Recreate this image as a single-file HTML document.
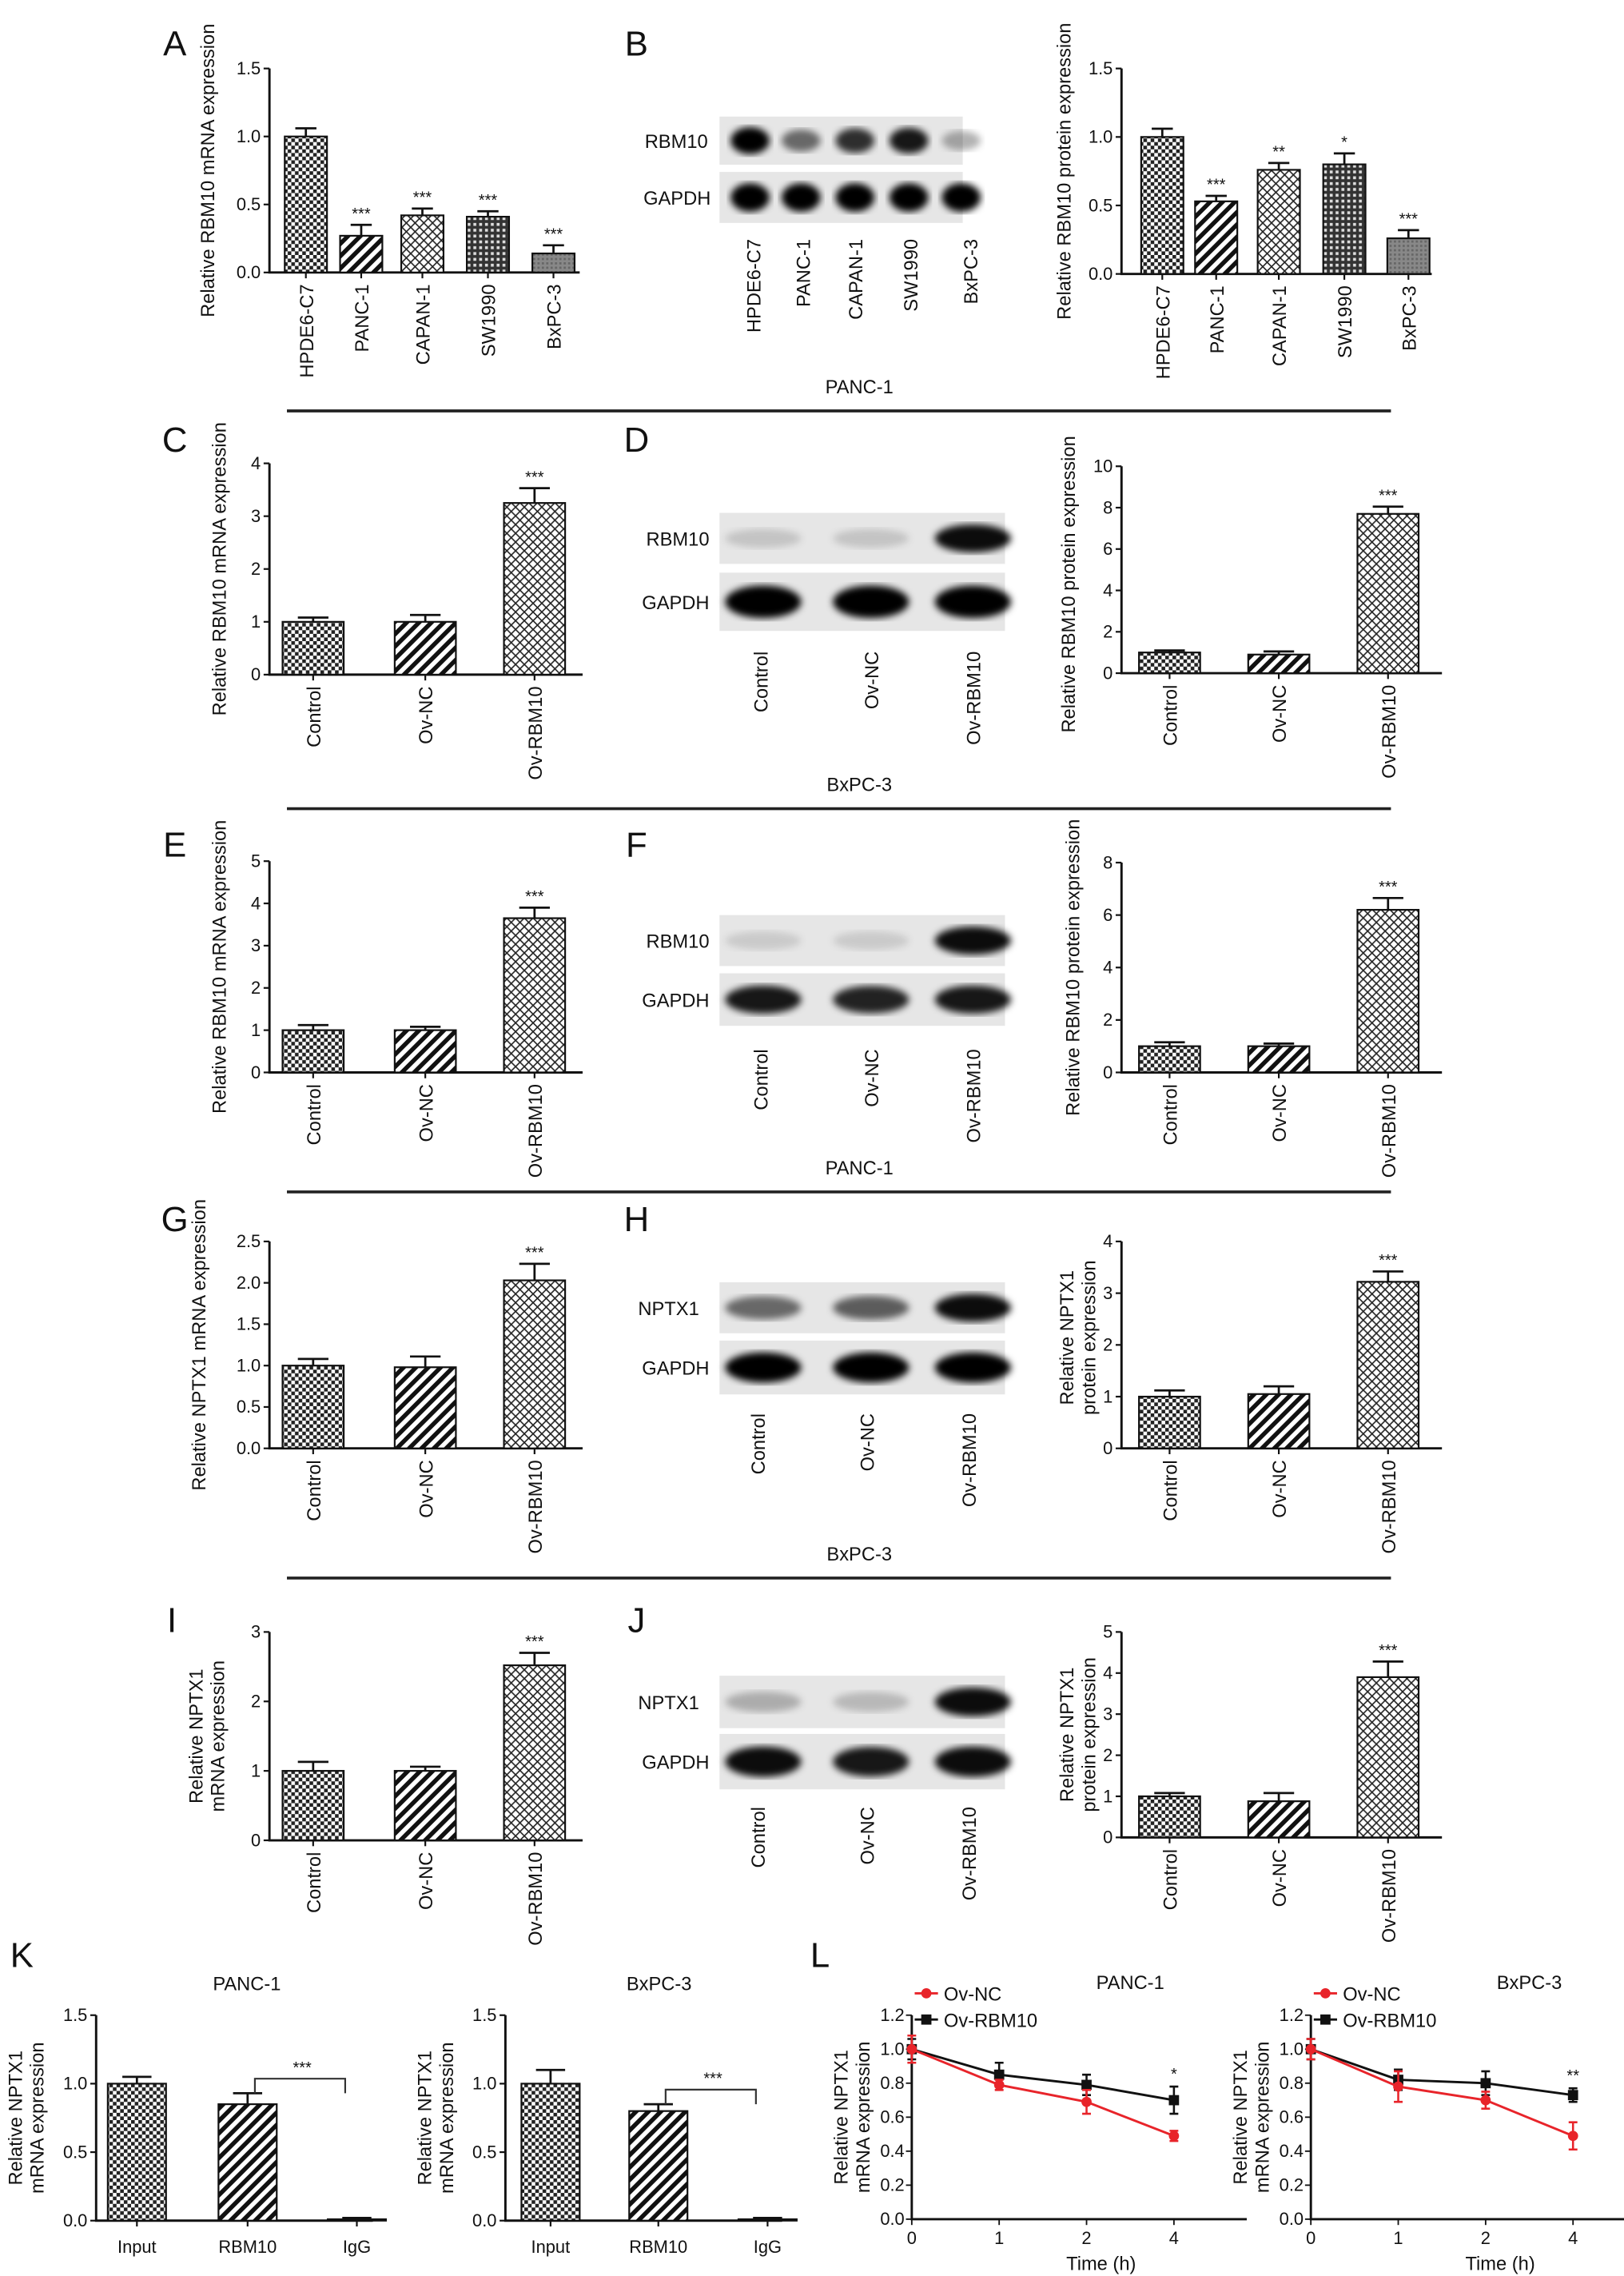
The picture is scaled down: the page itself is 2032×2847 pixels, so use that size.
<!DOCTYPE html>
<html><head><meta charset="utf-8">
<style>
html,body{margin:0;padding:0;background:#fff;}
svg{display:block;}
text{font-family:"Liberation Sans",sans-serif;fill:#111;}
</style></head>
<body>
<svg id="fig" xmlns="http://www.w3.org/2000/svg" width="2032" height="2847" viewBox="0 0 1115 1562" preserveAspectRatio="none">
<defs>
<pattern id="pCheck" width="5" height="5" patternUnits="userSpaceOnUse"><rect width="5" height="5" fill="#fff"/><path d="M0 0h2.5v2.5H0zM2.5 2.5H5V5H2.5z" fill="#222"/></pattern>
<pattern id="pDiag" width="6" height="6" patternUnits="userSpaceOnUse" patternTransform="rotate(45)"><rect width="6" height="6" fill="#fff"/><rect width="3" height="6" fill="#111"/></pattern>
<pattern id="pDiamond" width="6" height="6" patternUnits="userSpaceOnUse"><rect width="6" height="6" fill="#fff"/><path d="M0 0L6 6M6 0L0 6" stroke="#222" stroke-width="0.9"/></pattern>
<pattern id="pGrid" width="4" height="4" patternUnits="userSpaceOnUse"><rect width="4" height="4" fill="#333"/><rect x="1" y="1" width="2" height="2" fill="#ddd"/></pattern>
<pattern id="pGray" width="3" height="3" patternUnits="userSpaceOnUse"><rect width="3" height="3" fill="#888"/><rect width="1.5" height="1.5" fill="#666"/></pattern>
<filter id="blur"><feGaussianBlur stdDeviation="2.5"/></filter>
</defs>
</svg>
<script>
const NS='http://www.w3.org/2000/svg';
const svg=document.getElementById('fig');

// ---- data ----
const catsA=['HPDE6-C7','PANC-1','CAPAN-1','SW1990','BxPC-3'];
const valsA=[1.0,0.27,0.42,0.41,0.14];
const errsA=[0.06,0.08,0.05,0.04,0.06];
const starsA=['','***','***','***','***'];
const valsB=[1.0,0.53,0.76,0.80,0.26];
const errsB=[0.06,0.04,0.05,0.08,0.06];
const starsB=['','***','**','*','***'];
const cats3=['Control','Ov-NC','Ov-RBM10'];
const valsC=[1.0,1.0,3.25];const errsC=[0.08,0.13,0.28];
const valsD=[1.0,0.9,7.7];const errsD=[0.1,0.15,0.35];
const valsE=[1.0,1.0,3.65];const errsE=[0.12,0.08,0.25];
const valsF=[1.0,1.0,6.2];const errsF=[0.15,0.1,0.45];
const valsG=[1.0,0.98,2.03];const errsG=[0.08,0.13,0.2];
const valsH=[1.0,1.05,3.22];const errsH=[0.12,0.15,0.2];
const valsI=[1.0,1.0,2.52];const errsI=[0.13,0.06,0.18];
const valsJ=[1.0,0.88,3.9];const errsJ=[0.08,0.2,0.38];
const stars3=['','','***'];
const catsK=['Input','RBM10','IgG'];
const valsK1=[1.0,0.85,0.01];const errsK1=[0.05,0.08,0.01];
const valsK2=[1.0,0.8,0.01];const errsK2=[0.1,0.05,0.01];
const timesL=[0,1,2,4];
const ncL1=[1.0,0.79,0.69,0.49];const ncErrL1=[0.08,0.03,0.07,0.03];
const rbL1=[1.0,0.85,0.79,0.70];const rbErrL1=[0.06,0.07,0.06,0.08];
const ncL2=[1.0,0.78,0.70,0.49];const ncErrL2=[0.06,0.09,0.05,0.08];
const rbL2=[1.0,0.82,0.80,0.73];const rbErrL2=[0.06,0.06,0.07,0.04];
const ticksL=[0,0.2,0.4,0.6,0.8,1.0,1.2];

function mk(tag,attrs,parent){const e=document.createElementNS(NS,tag);for(const k in attrs)e.setAttribute(k,attrs[k]);(parent||svg).appendChild(e);return e;}
function txt(x,y,s,size,anchor,rot,parent){const t=mk('text',{x:x,y:y,'font-size':size,'text-anchor':anchor||'middle'},parent);if(rot)t.setAttribute('transform','rotate(-90 '+x+' '+y+')');t.textContent=s;return t;}

function letter(ch,x,y){const t=txt(x,y,ch,24,'middle');

}

function barChart(c){
  const g=mk('g',{});
  
  
  const ys=v=>c.yBot-(v/c.max)*(c.yBot-c.yTop);
  const ax=mk('path',{d:'M'+c.ax+' '+c.yTop+'V'+c.yBot+'H'+c.xEnd,stroke:'#111','stroke-width':1.6,fill:'none'},g);
  
  
  for(const t of c.ticks){const y=ys(t);
    mk('line',{x1:c.ax-4,x2:c.ax,y1:y,y2:y,stroke:'#111','stroke-width':1.2},g);
    const l=txt(c.ax-6,y+4,t.toFixed(c.dec),12,'end',false,g);
    
    }
  c.vals.forEach((v,i)=>{const cx=c.centers[i],w=c.bw;
    const b=mk('rect',{x:cx-w/2,y:ys(v),width:w,height:c.yBot-ys(v),fill:'url(#'+c.pats[i]+')',stroke:'#111','stroke-width':1.2},g);
    
    
    const ye=ys(v+c.errs[i]);
    const eb=mk('path',{d:'M'+cx+' '+ys(v)+'V'+ye+'M'+(cx-w*0.25)+' '+ye+'H'+(cx+w*0.25),stroke:'#111','stroke-width':1.5,fill:'none'},g);
    
    
    mk('line',{x1:cx,x2:cx,y1:c.yBot,y2:c.yBot+4,stroke:'#111','stroke-width':1.2},g);
    if(c.stars&&c.stars[i]){const s=txt(cx,ye-4,c.stars[i],11,'middle',false,g);
      
      }
    let l;
    if(c.rotLabels){l=txt(cx+5,c.yBot+8,c.cats[i],13,'end',true,g);}
    else{l=txt(cx,c.yBot+22,c.cats[i],12,'middle',false,g);}
    
    
  });
  c.title.forEach((line,k)=>{const t=txt(c.tx+k*15,(c.yTop+c.yBot)/2+c.tyOff,line,13,'middle',true,g);
    
    });
  return {g,ys};
}

function blot(name,x,y,w,h,lanes,intens,label,lx){
  const g=mk('g',{});
  
  
  mk('rect',{x:x,y:y,width:w,height:h,fill:'#e6e6e6'},g);
  lanes.forEach((cx,i)=>{const a=intens[i];
    const e=mk('ellipse',{cx:cx,cy:y+h/2,rx:w/(lanes.length*2)*0.8,ry:h*0.28*(0.6+0.4*a),fill:'#000','fill-opacity':a,filter:'url(#blur)'},g);
    
    });
  const t=txt(lx,y+h/2+5,label,13,'end',false,g);
  
  
}
function laneLabels(xs,y,cats){xs.forEach((x,i)=>{const t=txt(x+5,y,cats[i],13,'end',true);
  
  });}
function divider(label,y){const t=txt(590,y-12,label,13,'middle');
  
  
  const l=mk('line',{x1:197,x2:955,y1:y,y2:y,stroke:'#222','stroke-width':2});
  
  }

// ---- Panel A & B ----
letter('A',120,38);letter('B',437,38);
barChart({name:'chart-a',ax:185,xEnd:398,yTop:47,yBot:187,max:1.5,ticks:[0,0.5,1.0,1.5],dec:1,cats:catsA,vals:valsA,errs:errsA,stars:starsA,centers:[210,248,290,335,380],bw:29,pats:['pCheck','pDiag','pDiamond','pGrid','pGray'],rotLabels:true,title:['Relative RBM10 mRNA expression'],tx:147,tyOff:0});
blot('blot-b-rbm10',494,80,167,33,[515,550,587,624,660],[1,0.55,0.8,0.9,0.3],'RBM10',486);
blot('blot-b-gapdh',494,118,167,35,[515,550,587,624,660],[1,1,1,1,1],'GAPDH',488);
laneLabels([517,551,587,625,666],164,catsA);
barChart({name:'chart-b',ax:770,xEnd:983,yTop:47,yBot:188,max:1.5,ticks:[0,0.5,1.0,1.5],dec:1,cats:catsA,vals:valsB,errs:errsB,stars:starsB,centers:[798,835,878,923,967],bw:29,pats:['pCheck','pDiag','pDiamond','pGrid','pGray'],rotLabels:true,title:['Relative RBM10 protein expression'],tx:735,tyOff:0});
divider('PANC-1',282);

const c3=[215,292,367];const c3b=[803,878,953];
// C/D
letter('C',120,310);letter('D',437,310);
barChart({name:'chart-c',ax:185,xEnd:400,yTop:318,yBot:463,max:4,ticks:[0,1,2,3,4],dec:0,cats:cats3,vals:valsC,errs:errsC,stars:stars3,centers:c3,bw:42,pats:['pCheck','pDiag','pDiamond'],rotLabels:true,title:['Relative RBM10 mRNA expression'],tx:155,tyOff:0});
blot('blot-d-rbm10',494,352,196,35,[524,598,668],[0.15,0.15,0.95],'RBM10',487);
blot('blot-d-gapdh',494,393,196,40,[524,598,668],[1,1,1],'GAPDH',487);
laneLabels([522,598,668],447,cats3);
barChart({name:'chart-d',ax:770,xEnd:990,yTop:320,yBot:462,max:10,ticks:[0,2,4,6,8,10],dec:0,cats:cats3,vals:valsD,errs:errsD,stars:stars3,centers:c3b,bw:42,pats:['pCheck','pDiag','pDiamond'],rotLabels:true,title:['Relative RBM10 protein expression'],tx:738,tyOff:10});
divider('BxPC-3',555);

// E/F
letter('E',120,588);letter('F',437,588);
barChart({name:'chart-e',ax:185,xEnd:400,yTop:591,yBot:736,max:5,ticks:[0,1,2,3,4,5],dec:0,cats:cats3,vals:valsE,errs:errsE,stars:stars3,centers:c3,bw:42,pats:['pCheck','pDiag','pDiamond'],rotLabels:true,title:['Relative RBM10 mRNA expression'],tx:155,tyOff:0});
blot('blot-f-rbm10',494,628,196,35,[524,598,668],[0.12,0.12,0.95],'RBM10',487);
blot('blot-f-gapdh',494,668,196,36,[524,598,668],[0.9,0.85,0.9],'GAPDH',487);
laneLabels([522,598,668],720,cats3);
barChart({name:'chart-f',ax:770,xEnd:990,yTop:592,yBot:736,max:8,ticks:[0,2,4,6,8],dec:0,cats:cats3,vals:valsF,errs:errsF,stars:stars3,centers:c3b,bw:42,pats:['pCheck','pDiag','pDiamond'],rotLabels:true,title:['Relative RBM10 protein expression'],tx:741,tyOff:0});
divider('PANC-1',818);

// G/H
letter('G',120,845);letter('H',437,845);
barChart({name:'chart-g',ax:185,xEnd:400,yTop:852,yBot:994,max:2.5,ticks:[0,0.5,1.0,1.5,2.0,2.5],dec:1,cats:cats3,vals:valsG,errs:errsG,stars:stars3,centers:c3,bw:42,pats:['pCheck','pDiag','pDiamond'],rotLabels:true,title:['Relative NPTX1 mRNA expression'],tx:141,tyOff:0});
blot('blot-h-nptx1',494,880,196,35,[524,598,668],[0.55,0.6,0.95],'NPTX1',480);
blot('blot-h-gapdh',494,920,196,37,[524,598,668],[1,1,1],'GAPDH',487);
laneLabels([520,595,665],970,cats3);
barChart({name:'chart-h',ax:770,xEnd:990,yTop:852,yBot:994,max:4,ticks:[0,1,2,3,4],dec:0,cats:cats3,vals:valsH,errs:errsH,stars:stars3,centers:c3b,bw:42,pats:['pCheck','pDiag','pDiamond'],rotLabels:true,title:['Relative NPTX1','protein expression'],tx:737,tyOff:-5});
divider('BxPC-3',1083);

// I/J
letter('I',118,1120);letter('J',437,1120);
barChart({name:'chart-i',ax:185,xEnd:400,yTop:1120,yBot:1263,max:3,ticks:[0,1,2,3],dec:0,cats:cats3,vals:valsI,errs:errsI,stars:stars3,centers:c3,bw:42,pats:['pCheck','pDiag','pDiamond'],rotLabels:true,title:['Relative NPTX1','mRNA expression'],tx:139,tyOff:0});
blot('blot-j-nptx1',494,1150,196,36,[524,598,668],[0.25,0.2,0.95],'NPTX1',480);
blot('blot-j-gapdh',494,1190,196,38,[524,598,668],[0.95,0.9,0.95],'GAPDH',487);
laneLabels([520,595,665],1240,cats3);
barChart({name:'chart-j',ax:770,xEnd:990,yTop:1120,yBot:1261,max:5,ticks:[0,1,2,3,4,5],dec:0,cats:cats3,vals:valsJ,errs:errsJ,stars:stars3,centers:c3b,bw:42,pats:['pCheck','pDiag','pDiamond'],rotLabels:true,title:['Relative NPTX1','protein expression'],tx:737,tyOff:0});

// K
letter('K',15,1350);
function kChart(name,ax,centers,vals,errs,title){
  const r=barChart({name:name,ax:ax,xEnd:ax+190,yTop:1383,yBot:1524,max:1.5,ticks:[0,0.5,1.0,1.5],dec:1,cats:catsK,vals:vals,errs:errs,stars:null,centers:centers,bw:40,pats:['pCheck','pDiag','pGray'],rotLabels:false,title:['Relative NPTX1','mRNA expression'],tx:ax-51,tyOff:0});
  const yb=r.ys(vals[1]+errs[1])-10;
  const br=mk('path',{d:'M'+(centers[1]+5)+' '+(yb+10)+'V'+yb+'H'+(centers[2]-8)+'V'+(yb+10),stroke:'#333','stroke-width':1.2,fill:'none'},r.g);
  
  
  const s=txt((centers[1]+centers[2])/2,yb-4,'***',11,'middle',false,r.g);
  
  
  const t=txt((centers[0]+centers[2])/2,1366,title,13,'middle',false,r.g);
  
  
}
kChart('chart-k-panc1',66,[94,170,245],valsK1,errsK1,'PANC-1');
kChart('chart-k-bxpc3',347,[378,452,527],valsK2,errsK2,'BxPC-3');

// L
letter('L',563,1350);
function lineChart(name,ax,nc,ncE,rb,rbE,title,star){
  const g=mk('g',{});
  
  
  const yTop=1383,yBot=1523;
  const ys=v=>yBot-(v/1.2)*(yBot-yTop);
  const xs=i=>ax+i*60;
  const a=mk('path',{d:'M'+ax+' '+yTop+'V'+yBot+'H'+(ax+230),stroke:'#111','stroke-width':1.6,fill:'none'},g);
  
  
  ticksL.forEach(t=>{const y=ys(t);mk('line',{x1:ax-4,x2:ax,y1:y,y2:y,stroke:'#111'},g);
    const l=txt(ax-5,y+4,t.toFixed(1),12,'end',false,g);
    
    });
  timesL.forEach((t,i)=>{const x=xs(i);mk('line',{x1:x,x2:x,y1:yBot,y2:yBot+4,stroke:'#111'},g);
    const l=txt(x,yBot+17,String(t),12,'middle',false,g);
    
    });
  [[rb,rbE,'#111','ov-rbm10'],[nc,ncE,'#e8242a','ov-nc']].forEach(([v,e,col,nm])=>{
    const p=mk('polyline',{points:v.map((d,i)=>xs(i)+','+ys(d)).join(' '),fill:'none',stroke:col,'stroke-width':1.6},g);
    
    
    v.forEach((d,i)=>{const x=xs(i);
      const eb=mk('path',{d:'M'+x+' '+ys(d-e[i])+'V'+ys(d+e[i])+'M'+(x-3)+' '+ys(d-e[i])+'h6M'+(x-3)+' '+ys(d+e[i])+'h6',stroke:col,'stroke-width':1.4,fill:'none'},g);
      
      
      const m=nm==='ov-nc'?mk('circle',{cx:x,cy:ys(d),r:3.5,fill:col},g):mk('rect',{x:x-3.5,y:ys(d)-3.5,width:7,height:7,fill:col},g);
      
      });
  });
  const s=txt(xs(3),ys(rb[3]+rbE[3])-5,star,11,'middle',false,g);
  
  
  [['Ov-NC','#e8242a',1368,'circle'],['Ov-RBM10','#111',1386,'rect']].forEach(([lab,col,y,sh])=>{
    mk('line',{x1:ax+2,x2:ax+18,y1:y,y2:y,stroke:col,'stroke-width':1.6},g);
    const m=sh==='circle'?mk('circle',{cx:ax+10,cy:y,r:3.5,fill:col},g):mk('rect',{x:ax+6.5,y:y-3.5,width:7,height:7,fill:col},g);
    
    
    const t=txt(ax+22,y+5,lab,13,'start',false,g);
    
    });
  const t=txt(ax+150,1365,title,13,'middle',false,g);
  
  
  const xt=txt(ax+130,1558,'Time (h)',13,'middle',false,g);
  
  
  ['Relative NPTX1','mRNA expression'].forEach((ln,k)=>{const yt=txt(ax-44+k*15,1453,ln,13,'middle',true,g);
    
    });
}
lineChart('chart-l-panc1',626,ncL1,ncErrL1,rbL1,rbErrL1,'PANC-1','*');
lineChart('chart-l-bxpc3',900,ncL2,ncErrL2,rbL2,rbErrL2,'BxPC-3','**');
</script>
</body></html>
